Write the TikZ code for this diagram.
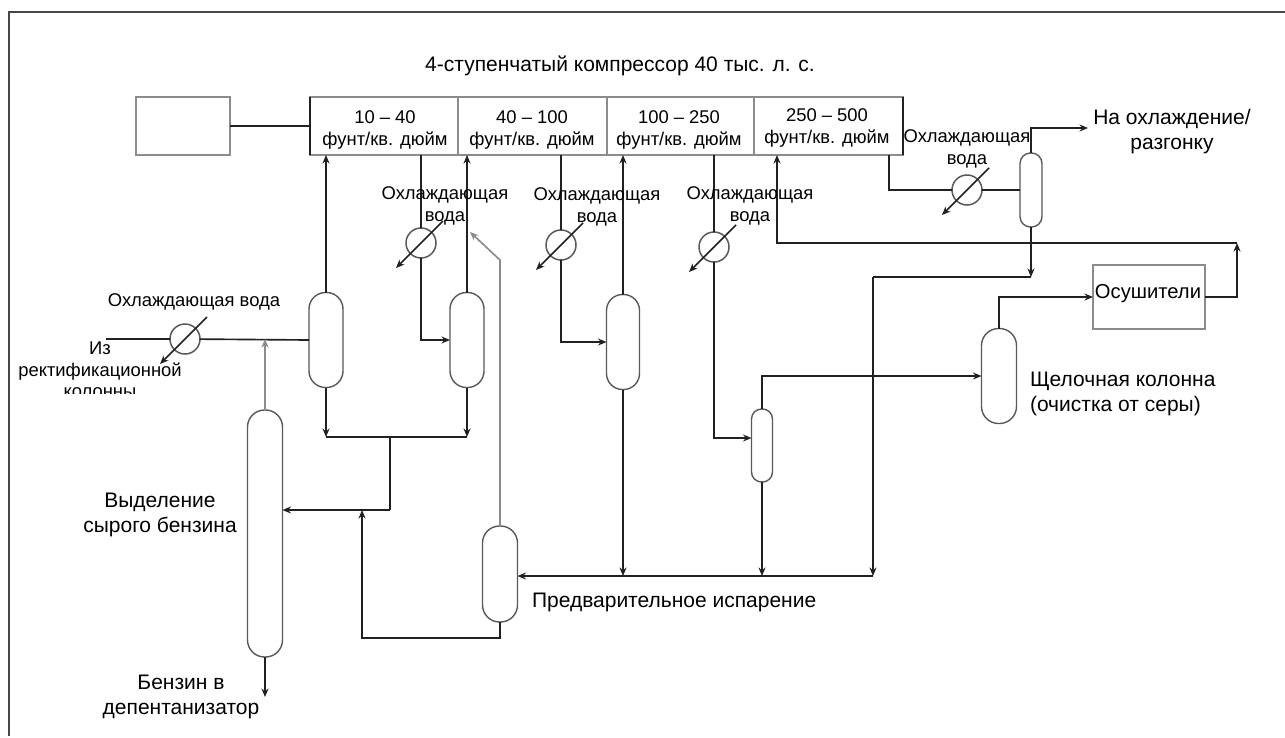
\documentclass[tikz,border=0pt]{standalone}
\usepackage{fontspec}
\setmainfont{Liberation Sans}
\usetikzlibrary{arrows.meta}
\definecolor{ink}{gray}{0.13}
\definecolor{soft}{gray}{0.55}
\definecolor{edge}{gray}{0.35}
\tikzset{
  x=1pt,y=-1pt,
  pipe/.style={draw=ink,line width=1.65pt},
  flow/.style={pipe,-{Stealth[length=8.5pt,width=7pt]}},
  softflow/.style={draw=soft,line width=1.65pt,-{Stealth[length=8.5pt,width=7pt]}},
  vessel/.style={draw=edge,line width=1.4pt,fill=white,inner sep=0pt,outer sep=0pt,minimum width=#1,minimum height=95pt,rounded corners=#1/2-0.5pt},
  cooler/.style={circle,draw=edge,line width=1.5pt,fill=white,inner sep=0pt,outer sep=0pt,minimum size=30pt},
  plain/.style={draw=soft,line width=1.7pt,fill=white,inner sep=0pt,outer sep=0pt},
  txt/.style={inner sep=0pt,outer sep=0pt,align=center,font=\fontsize{18.4}{21.5}\selectfont},
  big/.style={inner sep=0pt,outer sep=0pt,align=center,font=\fontsize{21}{25}\selectfont},
  lft/.style={big,align=left,anchor=west},
}
\newcommand{\coolslash}[1]{\draw[flow] ([shift={(22,-22)}]#1.center) -- ([shift={(-25,25)}]#1.center);}
\begin{document}
\begin{tikzpicture}
\useasboundingbox (0,0) rectangle (1285,737);
\fill[white] (0,0) rectangle (1285,737);
\draw[draw=black!72,line width=2pt] (9,736) -- (9,12) -- (1285,12);

% compressor and drive
\node[plain,minimum width=94pt,minimum height=58pt] (drive) at (183,126) {};
\node[plain,minimum width=148pt,minimum height=58pt] (s1) at (384,126) {};
\node[plain,minimum width=149pt,minimum height=58pt] (s2) at (532.5,126) {};
\node[plain,minimum width=147pt,minimum height=58pt] (s3) at (680.5,126) {};
\node[plain,minimum width=149pt,minimum height=58pt] (s4) at (828.5,126) {};
\draw[pipe] (s1.north west) -- (s1.south west);
\draw[pipe] (s4.north east) -- (s4.south east);
\draw[pipe] (drive.east) -- (s1.west);

% vessels
\node[vessel=34pt] (v1) at (326,340) {};
\node[vessel=34pt] (v2) at (467,340) {};
\node[vessel=33pt] (v3) at (623,342) {};
\node[vessel=35pt,minimum height=96pt] (v4) at (500,574) {};
\node[vessel=21pt,minimum height=73pt] (v5) at (762,445.5) {};
\node[vessel=35pt] (v6) at (999,376) {};
\node[vessel=22pt,minimum height=74pt] (v7) at (1031,190) {};
\node[vessel=35pt,minimum height=247pt] (col) at (265,533.5) {};
\node[plain,minimum width=112pt,minimum height=64pt] (dry) at (1149,297) {};

% coolers
\node[cooler] (c0) at (185,339) {};
\node[cooler] (c1) at (421,243) {};
\node[cooler] (c2) at (561,245) {};
\node[cooler] (c3) at (714,247) {};
\node[cooler] (c4) at (967,190) {};

% free points
\coordinate (in) at (106,339);
\coordinate (j1) at (265,339);
\coordinate (s1o) at (421,155);
\coordinate (s2o) at (561,155);
\coordinate (s3o) at (714,155);
\coordinate (s4o) at (889,155);
\coordinate (b1) at (326,437);
\coordinate (b2) at (467,437);
\coordinate (b3) at (390,437);
\coordinate (b4) at (390,510);
\coordinate (fl) at (873,576);
\coordinate (recy) at (777,243);
\coordinate (dr) at (1237,243);

% feed
\draw[pipe] (in) -- (c0);
\draw[pipe] (c0) -- (v1.west);
\draw[softflow] (col.north) -- (j1);

% first stage
\draw[flow] (v1.north) -- (326,155);
\draw[pipe] (s1o) -- (c1);
\draw[flow] (c1) |- (v2.west);
\draw[flow] (v2.north) -- (467,155);
\draw[flow] (v1.south) -- (b1);
\draw[flow] (v2.south) -- (b2);
\draw[pipe] (b1) -- (b2);
\draw[pipe] (b3) -- (b4);
\draw[flow] (b4) -- (col.east |- b4);
\draw[flow] (col.south) -- (265,697);

% from flash drum
\draw[flow] (v4.south) |- (362,638) -- (362,510);
\draw[softflow] (v4.north) -- (500,260) -- (470,232);

% second stage
\draw[pipe] (s2o) -- (c2);
\draw[flow] (c2) |- (v3.west);
\draw[flow] (v3.north) -- (623,155);
\draw[flow] (v3.south) -- (623,576);

% third stage
\draw[pipe] (s3o) -- (c3);
\draw[flow] (c3) |- (v5.west |- 0,438);
\draw[flow] (v5.south) -- (762,576);
\draw[flow] (v5.north) |- (v6.west);
\draw[flow] (v6.north) |- (dry.west);
\draw[flow] (dry.east) -| (dr);
\draw[flow] (dr) -- (recy) -- (777,155);

% fourth stage
\draw[pipe] (s4o) |- (c4);
\draw[pipe] (c4) -- (v7.west);
\draw[flow] (v7.north) |- (1088,128);
\draw[flow] (v7.south) -- (1031,277);
\draw[pipe] (1031,277) -- (873,277);
\draw[flow] (873,277) -- (fl);
\draw[flow] (fl) -- (v4.east |- fl);

\coolslash{c0}
\coolslash{c1}
\coolslash{c2}
\coolslash{c3}
\coolslash{c4}

% texts
\node[big] (title) at (620,66) {4-ступенчатый компрессор 40 тыс. л. с.};
\node[txt] (t1) at (385,130) {10 – 40\\фунт/кв. дюйм};
\node[txt] (t2) at (532,130) {40 – 100\\фунт/кв. дюйм};
\node[txt] (t3) at (679,130) {100 – 250\\фунт/кв. дюйм};
\node[txt] (t4) at (827,128) {250 – 500\\фунт/кв. дюйм};
\node[txt] (w1) at (445,206) {Охлаждающая\\вода};
\node[txt] (w2) at (597,207) {Охлаждающая\\вода};
\node[txt] (w3) at (750,206) {Охлаждающая\\вода};
\node[txt] (w4) at (967,149) {Охлаждающая\\вода};
\node[txt] (w0) at (194,302) {Охлаждающая вода};
\begin{scope}
\clip (0,320) rectangle (300,393);
\node[txt] (src) at (100,370) {Из\\ректификационной\\колонны};
\end{scope}
\node[big] (out) at (1172,132) {На охлаждение/\\разгонку};
\node[big,font=\fontsize{20.2}{25}\selectfont] (dryt) at (1148,294) {Осушители};
\node[lft] (alk) at (1030,394) {Щелочная колонна\\(очистка от серы)};
\node[big] (naph) at (160,515) {Выделение\\сырого бензина};
\node[big] (dep) at (181,697) {Бензин в\\депентанизатор};
\node[lft] (pre) at (532,602) {Предварительное испарение};
\end{tikzpicture}
\end{document}
